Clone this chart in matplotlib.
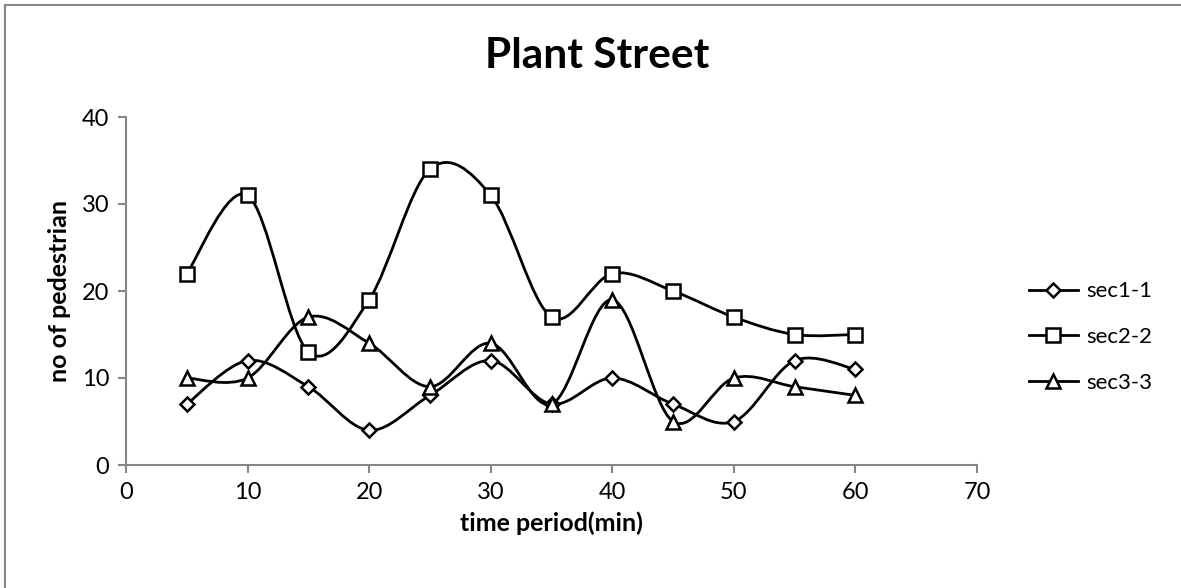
import matplotlib
matplotlib.use("Agg")
import matplotlib.pyplot as plt
import numpy as np
from matplotlib.path import Path
from matplotlib.patches import PathPatch
from matplotlib.lines import Line2D

time_min = [5, 10, 15, 20, 25, 30, 35, 40, 45, 50, 55, 60]
sec1_1 = [7, 12, 9, 4, 8, 12, 7, 10, 7, 5, 12, 11]
sec2_2 = [22, 31, 13, 19, 34, 31, 17, 22, 20, 17, 15, 15]
sec3_3 = [10, 10, 17, 14, 9, 14, 7, 19, 5, 10, 9, 8]
series_names = ["sec1-1", "sec2-2", "sec3-3"]
markers = ["D", "s", "^"]
msizes = [7, 10, 10]

plt.rcParams['font.family'] = ['Lato', 'DejaVu Sans']

W, H = 1181, 588
fig = plt.figure(figsize=(W/100, H/100), dpi=100)
L, R, T, B = 126, 977, 117, 465
ax = fig.add_axes([L/W, 1-B/H, (R-L)/W, (B-T)/H])

def smooth_path(x, y):
    pts = np.column_stack([x, y]).astype(float)
    n = len(pts)
    verts = [pts[0]]
    codes = [Path.MOVETO]
    for i in range(n - 1):
        p0 = pts[i - 1] if i > 0 else pts[i]
        p1 = pts[i]
        p2 = pts[i + 1]
        p3 = pts[i + 2] if i + 2 < n else pts[i + 1]
        c1 = p1 + (p2 - p0) / 6.0
        c2 = p2 - (p3 - p1) / 6.0
        verts += [c1, c2, p2]
        codes += [Path.CURVE4] * 3
    return Path(verts, codes)

handles = []
for name, ys, m, ms in zip(series_names, [sec1_1, sec2_2, sec3_3], markers, msizes):
    patch = PathPatch(smooth_path(time_min, ys), facecolor='none', edgecolor='black', lw=2.0, zorder=2)
    ax.add_patch(patch)
    ax.plot(time_min, ys, linestyle='none', marker=m, ms=ms, mfc='white', mec='black', mew=1.8, zorder=3)
    handles.append(Line2D([0], [0], color='black', lw=2.0, marker=m, ms=ms, mfc='white', mec='black', mew=1.8))

ax.set_xlim(0, 70)
ax.set_ylim(0, 40)
ax.set_xticks(np.arange(0, 71, 10))
ax.set_yticks(np.arange(0, 41, 10))
for s in ['top', 'right']:
    ax.spines[s].set_visible(False)
for s in ['left', 'bottom']:
    ax.spines[s].set_color('#868686')
    ax.spines[s].set_linewidth(1.5)
ax.tick_params(direction='out', length=6, width=1.5, color='#868686', labelsize=17, pad=6)

ax.set_xlabel('time period(min)', fontsize=18, fontweight='bold', labelpad=6)
ax.set_ylabel('no of pedestrian', fontsize=18, fontweight='bold', labelpad=8)
fig.text(597/W, 1-68/H, 'Plant Street', fontsize=30.5, fontweight='bold', ha='center', va='baseline')

leg = fig.legend(handles, series_names, loc='center left', bbox_to_anchor=(1009/W, 1-337/H),
                 frameon=False, fontsize=16, handlelength=2.2, labelspacing=1.15, handletextpad=0.4)

border_kw = dict(color='#868686', lw=1.5, transform=fig.transFigure)
fig.lines.append(Line2D([5/W, 1.0], [1-5/H, 1-5/H], **border_kw))
fig.lines.append(Line2D([5/W, 5/W], [0.0, 1-5/H], **border_kw))

fig.savefig('out.png', dpi=100)
